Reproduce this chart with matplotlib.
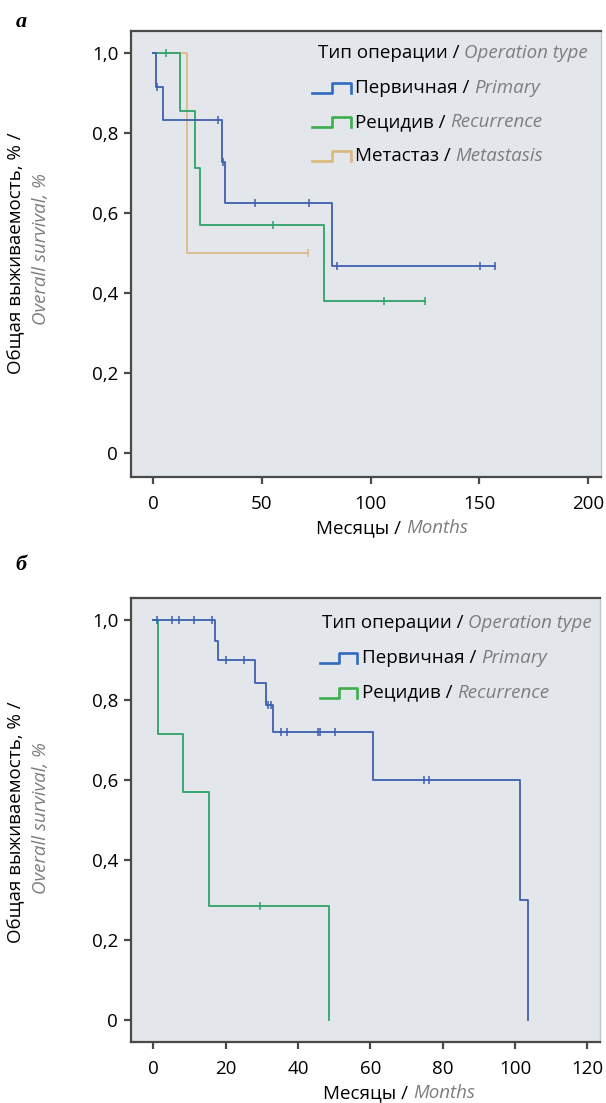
import numpy as np
import matplotlib
matplotlib.use("Agg")
import matplotlib.pyplot as plt
from matplotlib.lines import Line2D

# ---------------- data ----------------
# Panel a: overall survival by operation type (Kaplan-Meier steps)
a_primary_t = [0, 1.3, 4.4, 31.5, 32.8, 82.0, 157.0]
a_primary_s = [1.0, 0.917, 0.833, 0.729, 0.625, 0.469, 0.469]
a_primary_cens = [1.6, 29.9, 32.2, 46.6, 71.6, 84.6, 150.1, 157.0]

a_recur_t = [0, 12.4, 19.2, 21.3, 78.4, 125.0]
a_recur_s = [1.0, 0.857, 0.714, 0.571, 0.381, 0.381]
a_recur_cens = [5.8, 54.9, 106.0, 125.0]

a_meta_t = [0, 15.5, 71.0]
a_meta_s = [1.0, 0.5, 0.5]
a_meta_cens = [71.0]

# Panel b
b_primary_t = [0, 17.0, 17.9, 28.1, 31.1, 33.1, 60.7, 101.4, 103.6]
b_primary_s = [1.0, 0.947, 0.90, 0.843, 0.787, 0.72, 0.60, 0.30, 0.0]
b_primary_cens = [1.1, 5.0, 7.1, 11.3, 16.3, 20.0, 25.1, 31.8, 32.4,
                  35.3, 36.9, 45.5, 46.0, 50.3, 74.7, 76.2]

b_recur_t = [0, 1.25, 8.2, 15.4, 48.5]
b_recur_s = [1.0, 0.714, 0.571, 0.286, 0.0]
b_recur_cens = [29.4]

y_ticks = [0, 0.2, 0.4, 0.6, 0.8, 1.0]
y_ticklabels = ["0", "0,2", "0,4", "0,6", "0,8", "1,0"]
a_xticks = [0, 50, 100, 150, 200]
b_xticks = [0, 20, 40, 60, 80, 100, 120]

legend_title = ("Тип операции / ", "Operation type")
a_legend = [("Первичная / ", "Primary"), ("Рецидив / ", "Recurrence"),
            ("Метастаз / ", "Metastasis")]
b_legend = [("Первичная / ", "Primary"), ("Рецидив / ", "Recurrence")]
ylabel_ru = "Общая выживаемость, % /"
ylabel_en = "Overall survival, %"
xlabel = ("Месяцы / ", "Months")

# ---------------- style ----------------
W, H, DPI = 606, 1103, 100
FONT = ["Open Sans", "DejaVu Sans"]
plt.rcParams["font.family"] = FONT
BG = "#e3e6ea"
SPINE = "#4a4a4a"
GRAY = "#7d7d7d"
C_BLUE = "#3d5fae"
C_GREEN = "#2ea36a"
C_TAN = "#d8bd85"
I_BLUE = "#2f6cc0"
I_GREEN = "#3cae4c"
I_TAN = "#d9b878"
FS = 13.5

fig = plt.figure(figsize=(W / DPI, H / DPI), dpi=DPI)
renderer = fig.canvas.get_renderer()


def fx(px):
    return px / W


def fy(py):
    return 1 - py / H


def make_axes(left, right, top, bottom, xlim, ylim, xticks):
    ax = fig.add_axes([fx(left), fy(bottom), fx(right) - fx(left), fy(top) - fy(bottom)])
    ax.set_facecolor(BG)
    ax.set_xlim(*xlim)
    ax.set_ylim(*ylim)
    ax.set_xticks(xticks)
    ax.set_xticklabels([str(v) for v in xticks])
    ax.set_yticks(y_ticks)
    ax.set_yticklabels(y_ticklabels)
    for s in ["left", "bottom", "top"]:
        ax.spines[s].set_color(SPINE)
        ax.spines[s].set_linewidth(1.6)
    ax.spines["right"].set_color("#c4c6c9")
    ax.spines["right"].set_linewidth(1.0)
    ax.tick_params(direction="out", length=5, width=1.6, color=SPINE,
                   labelsize=FS, pad=4)
    ax.tick_params(axis="x", pad=8)
    return ax


def km(ax, t, s, cens, color, z):
    ax.plot(t, s, drawstyle="steps-post", color=color, lw=1.3, zorder=z)
    t_arr = np.asarray(t)
    s_arr = np.asarray(s)
    idx = np.searchsorted(t_arr, np.asarray(cens), side="right") - 1
    ax.plot(cens, s_arr[idx], ls="none", marker="|", ms=6, mew=1.1,
            color=color, zorder=z)


def two_tone(x, y, s1, s2, size=FS, ha="left"):
    t1 = fig.text(fx(x), fy(y), s1, fontsize=size, color="black",
                  va="center", ha="left")
    t2 = fig.text(fx(x), fy(y), s2, fontsize=size, color=GRAY,
                  style="italic", va="center", ha="left")
    w1 = t1.get_window_extent(renderer).width
    w2 = t2.get_window_extent(renderer).width
    x0 = x - (w1 + w2) / 2 if ha == "center" else x
    t1.set_x(fx(x0))
    t2.set_x(fx(x0 + w1))


def icon(x0, x1, yc, color):
    h = 5
    xm = (x0 + x1) / 2
    xs = [x0, xm, xm, x1, x1]
    ys = [yc + h, yc + h, yc - h, yc - h, yc + h]
    fig.add_artist(Line2D([fx(v) for v in xs], [fy(v) for v in ys],
                          transform=fig.transFigure, color=color, lw=1.9))


# ---------------- panel a ----------------
axa = make_axes(130.7, 601, 31, 476.7, (-10.4, 206.0), (-0.0585, 1.0558), a_xticks)
km(axa, a_meta_t, a_meta_s, a_meta_cens, C_TAN, 2)
km(axa, a_recur_t, a_recur_s, a_recur_cens, C_GREEN, 3)
km(axa, a_primary_t, a_primary_s, a_primary_cens, C_BLUE, 4)

two_tone(318, 53, *legend_title)
for (lab, col, yy) in zip(a_legend, [I_BLUE, I_GREEN, I_TAN], [88, 122, 156]):
    icon(312, 351, yy, col)
    two_tone(355, yy, *lab)

fig.text(fx(21), fy(22), "а", fontsize=16, fontweight="bold", style="italic",
         family="Liberation Serif", ha="center", va="center")
fig.text(fx(16), fy(253), ylabel_ru, rotation=90, fontsize=FS,
         ha="center", va="center")
fig.text(fx(41), fy(249), ylabel_en, rotation=90, fontsize=FS, color=GRAY,
         style="italic", ha="center", va="center")
two_tone(392, 528, *xlabel, ha="center")

# ---------------- panel b ----------------
axb = make_axes(130.7, 600, 598.3, 1042.3, (-6.3, 123.5), (-0.056, 1.054), b_xticks)
km(axb, b_recur_t, b_recur_s, b_recur_cens, C_GREEN, 3)
km(axb, b_primary_t, b_primary_s, b_primary_cens, C_BLUE, 4)

two_tone(321.5, 622.7, *legend_title)
for (lab, col, yy) in zip(b_legend, [I_BLUE, I_GREEN], [658.3, 692.7]):
    icon(320, 357, yy, col)
    two_tone(362, yy, *lab)

fig.text(fx(21), fy(565), "б", fontsize=16, fontweight="bold", style="italic",
         family="Liberation Serif", ha="center", va="center")
fig.text(fx(16), fy(822), ylabel_ru, rotation=90, fontsize=FS,
         ha="center", va="center")
fig.text(fx(41), fy(818), ylabel_en, rotation=90, fontsize=FS, color=GRAY,
         style="italic", ha="center", va="center")
two_tone(399, 1093, *xlabel, ha="center")

fig.savefig("out.png", dpi=DPI)
